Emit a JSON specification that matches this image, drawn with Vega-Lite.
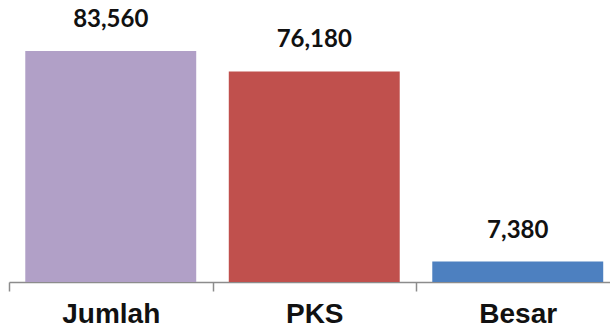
{
  "$schema": "https://vega.github.io/schema/vega-lite/v6.json",
  "width": 601,
  "height": 282,
  "autosize": {"type": "none"},
  "padding": {"left": 9, "top": 0, "right": 0, "bottom": 50},
  "background": "white",
  "config": {"view": {"stroke": null}},
  "data": {
    "values": [
      {"kategori": "Jumlah", "nilai": 83560},
      {"kategori": "PKS", "nilai": 76180},
      {"kategori": "Besar", "nilai": 7380}
    ]
  },
  "encoding": {
    "x": {
      "field": "kategori",
      "type": "nominal",
      "sort": ["Jumlah", "PKS", "Besar"],
      "scale": {"paddingInner": 0, "paddingOuter": 0, "range": [0, 610.5]},
      "axis": {
        "title": null,
        "labelAngle": 0,
        "tickBand": "extent",
        "domainColor": "#8c8c8c",
        "domainWidth": 1.5,
        "tickColor": "#8c8c8c",
        "tickWidth": 1.5,
        "tickSize": 9,
        "labelFont": "Liberation Sans",
        "labelFontWeight": "bold",
        "labelFontSize": 28,
        "labelColor": "#111111",
        "labelBaseline": "alphabetic",
        "labelPadding": 31
      }
    },
    "y": {
      "field": "nilai",
      "type": "quantitative",
      "scale": {"domain": [0, 102000], "nice": false},
      "axis": null
    }
  },
  "layer": [
    {
      "mark": {"type": "bar", "width": {"band": 0.84}},
      "encoding": {
        "color": {
          "field": "kategori",
          "type": "nominal",
          "scale": {"domain": ["Jumlah", "PKS", "Besar"], "range": ["#b1a0c7", "#c0504d", "#4d80c0"]},
          "legend": null
        }
      }
    },
    {
      "mark": {"type": "text", "baseline": "alphabetic", "dy": -24, "font": "Lato", "fontWeight": "bold", "fontSize": 24, "color": "#111111"},
      "encoding": {
        "text": {"field": "nilai", "type": "quantitative", "format": ",d"}
      }
    }
  ]
}
